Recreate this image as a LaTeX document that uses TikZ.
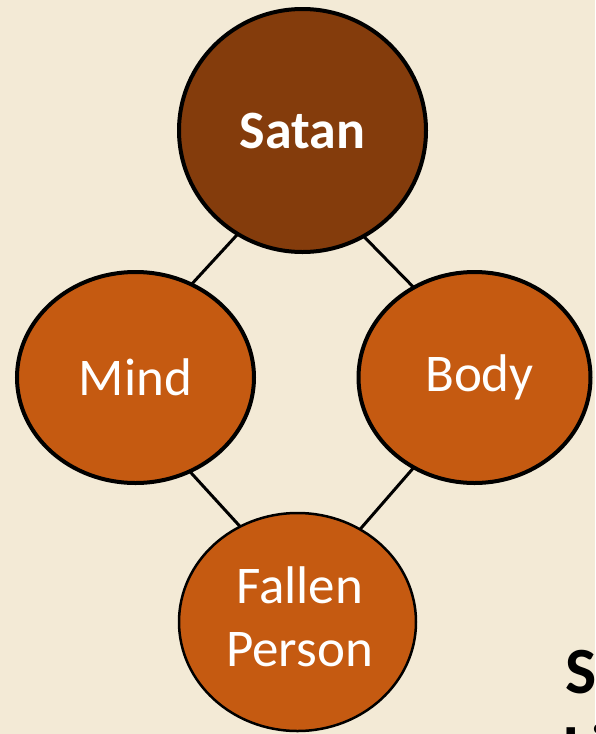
\documentclass[tikz,border=0pt]{standalone}
\usepackage{fontspec}
\setmainfont{Carlito}
\usetikzlibrary{shapes.geometric,backgrounds}
\definecolor{bgcol}{RGB}{243,234,214}
\definecolor{darkbrown}{RGB}{132,60,12}
\definecolor{rust}{RGB}{197,90,17}
\tikzset{
  orb/.style={ellipse, draw=black, line width=4pt, inner sep=0pt, outer sep=0pt,
    text=white, font=\fontsize{53}{63}\selectfont, align=center},
  link/.style={draw=black, line width=3pt},
}
\begin{document}
\begin{tikzpicture}[x=1pt,y=-1pt]
\useasboundingbox (0,0) rectangle (595,734);
\node[orb, fill=darkbrown, minimum width=247pt, minimum height=243pt,
  font=\fontsize{54}{63}\selectfont\bfseries] (satan) at (302.5,130.5) {\raisebox{-2pt}{Satan}};
\node[orb, fill=rust, minimum width=237pt, minimum height=211pt] (mind) at (135.5,377.5) {Mind};
\node[orb, fill=rust, minimum width=232pt, minimum height=211pt] (body) at (474.5,377.5) {\hspace*{10pt}Body};
\node[orb, fill=rust, line width=2.5pt, minimum width=237pt, minimum height=218pt] (fallen) at (297.5,622) {\raisebox{7pt}{\begin{tabular}{@{}c@{}}\hspace*{4pt}Fallen\\\hspace*{4pt}Person\end{tabular}}};
\begin{scope}[on background layer]
  \fill[bgcol] (0,0) rectangle (595,734);
  \draw[link] (satan.238) -- (mind.59);
  \draw[link] (satan.300) -- (body.124);
  \draw[link] (mind.300) -- (fallen.121);
  \draw[link] (body.236) -- (fallen.56);
\end{scope}
\begin{scope}
  \clip (0,0) rectangle (595,734);
  \node[anchor=base west, inner sep=0pt, font=\fontsize{66}{77}\selectfont\bfseries] (s1) at (565,693) {S};
  \node[anchor=base west, inner sep=0pt, font=\fontsize{66}{77}\selectfont\bfseries] (s2) at (563,770) {Li};
\end{scope}
\end{tikzpicture}
\end{document}
